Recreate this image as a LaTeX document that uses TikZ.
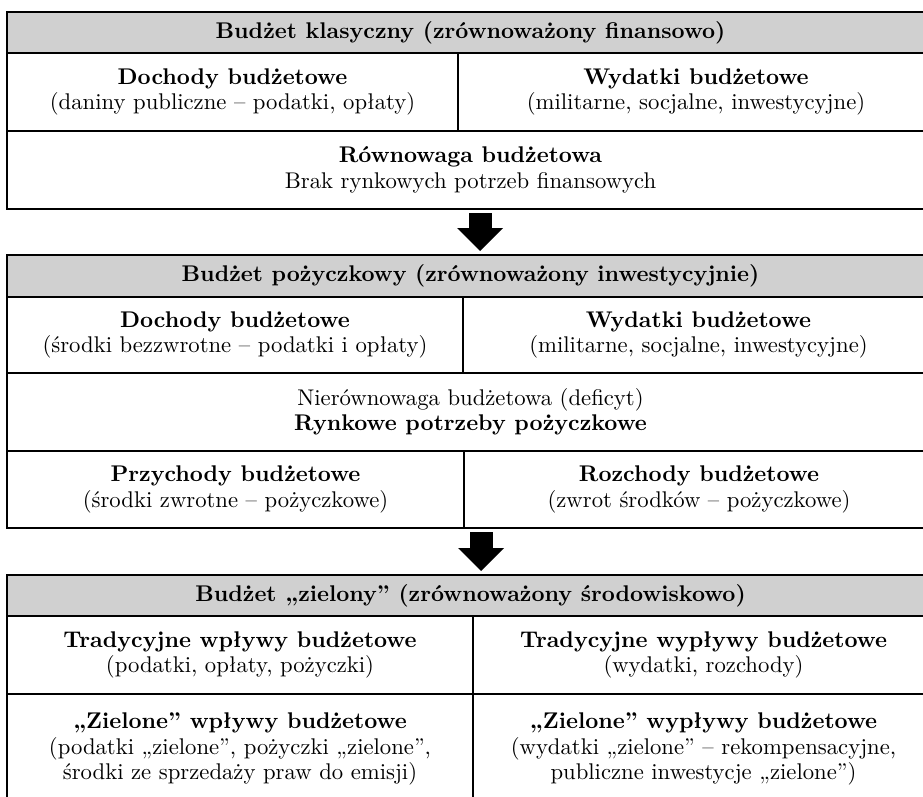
\documentclass[tikz,border=0pt]{standalone}
\usepackage{fontspec}
\setmainfont{lmroman10}[Extension=.otf, UprightFont=*-regular, BoldFont=*-bold, ItalicFont=*-italic]
\usetikzlibrary{arrows.meta,positioning}
\definecolor{szary}{RGB}{208,208,208}
\tikzset{
  blok/.style={draw, line width=1.8pt, outer sep=0pt, inner sep=0pt, anchor=north west,
    align=center, font=\fontsize{22.7}{25.5}\selectfont},
  naglowek/.style={blok, fill=szary, font=\fontsize{22.7}{25.5}\selectfont\bfseries,
    minimum width=927pt, minimum height=41pt},
  strzalka/.style={line width=23pt, -{Triangle[width=46pt,length=23pt,line width=0pt]},
    shorten <=4pt, shorten >=4pt}
}

\begin{document}
\begin{tikzpicture}[x=1pt, y=-1pt]
\useasboundingbox (0,0) rectangle (923,797);
\clip (0,0) rectangle (923,797);

% budzet klasyczny
\node[naglowek] (k-tyt) at (7,12) {Budżet klasyczny (zrównoważony finansowo)};
\node[blok, minimum width=451pt, minimum height=78pt] (k-doch) at (k-tyt.south west) {
    \textbf{Dochody budżetowe}\\(daniny publiczne – podatki, opłaty)};
\node[blok, minimum width=476pt, minimum height=78pt] (k-wyd) at (k-doch.north east) {
    \textbf{Wydatki budżetowe}\\(militarne, socjalne, inwestycyjne)};
\node[blok, minimum width=927pt, minimum height=78pt] (k-rown) at (k-doch.south west) {
    \textbf{Równowaga budżetowa}\\Brak rynkowych potrzeb finansowych};

% budzet pozyczkowy
\node[naglowek, minimum height=42pt] (p-tyt) at ([yshift=-46pt]k-rown.south west) {Budżet pożyczkowy (zrównoważony inwestycyjnie)};
\node[blok, minimum width=456pt, minimum height=76pt] (p-doch) at (p-tyt.south west) {
    \textbf{Dochody budżetowe}\\(środki bezzwrotne – podatki i opłaty)};
\node[blok, minimum width=471pt, minimum height=76pt] (p-wyd) at (p-doch.north east) {
    \textbf{Wydatki budżetowe}\\(militarne, socjalne, inwestycyjne)};
\node[blok, minimum width=927pt, minimum height=78pt] (p-nier) at (p-doch.south west) {
    Nierównowaga budżetowa (deficyt)\\\textbf{Rynkowe potrzeby pożyczkowe}};
\node[blok, minimum width=457pt, minimum height=77pt] (p-przy) at (p-nier.south west) {
    \textbf{Przychody budżetowe}\\(środki zwrotne – pożyczkowe)};
\node[blok, minimum width=470pt, minimum height=77pt] (p-roz) at (p-przy.north east) {
    \textbf{Rozchody budżetowe}\\(zwrot środków – pożyczkowe)};

% budzet zielony
\node[naglowek] (z-tyt) at ([yshift=-47pt]p-przy.south west) {Budżet „zielony” (zrównoważony środowiskowo)};
\node[blok, minimum width=466pt, minimum height=78pt] (z-trad-wp) at (z-tyt.south west) {
    \textbf{Tradycyjne wpływy budżetowe}\\(podatki, opłaty, pożyczki)};
\node[blok, minimum width=461pt, minimum height=78pt] (z-trad-wy) at (z-trad-wp.north east) {
    \textbf{Tradycyjne wypływy budżetowe}\\(wydatki, rozchody)};
\node[blok, minimum width=466pt, minimum height=110pt] (z-ziel-wp) at (z-trad-wp.south west) {
    \textbf{„Zielone” wpływy budżetowe}\\(podatki „zielone”, pożyczki „zielone”,\\środki ze sprzedaży praw do emisji)};
\node[blok, minimum width=461pt, minimum height=110pt] (z-ziel-wy) at (z-ziel-wp.north east) {
    \textbf{„Zielone” wypływy budżetowe}\\(wydatki „zielone” – rekompensacyjne,\\publiczne inwestycje „zielone”)};

% strzalki
\draw[strzalka] ([xshift=9.5pt]k-rown.south) -- ([xshift=9.5pt]p-tyt.north);
\draw[strzalka] ([xshift=10.5pt]p-przy.south -| p-tyt.south) -- ([xshift=10.5pt]z-tyt.north);
\end{tikzpicture}
\end{document}
